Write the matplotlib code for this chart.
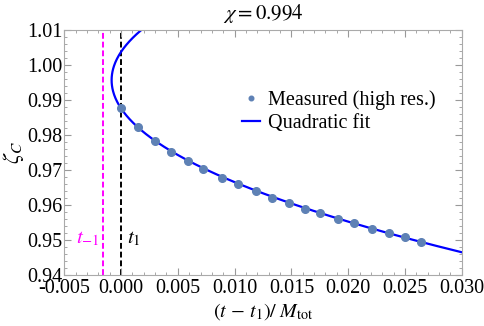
import numpy as np
import matplotlib.pyplot as plt
from matplotlib.ticker import MultipleLocator, FormatStrFormatter

# measured points (high res.)
t_meas = [0.0, 0.00149, 0.00296, 0.00442, 0.00589, 0.00724, 0.00892, 0.01032,
          0.01188, 0.01329, 0.01476, 0.01623, 0.01752, 0.01913, 0.02054,
          0.02207, 0.02357, 0.02501, 0.02639]
zeta_meas = [0.98763, 0.98229, 0.97837, 0.97523, 0.97266, 0.97049, 0.96791,
             0.96600, 0.96409, 0.96220, 0.96066, 0.95906, 0.95771, 0.95614,
             0.95486, 0.95334, 0.95209, 0.95086, 0.94963]
# quadratic fit  t = a (zeta - zeta0)^2 + t0, parameters
fit_a = 12.8
fit_zeta0 = 0.9957
fit_t0 = -0.00083
t_1 = 0.0
t_m1 = -0.00157
chi = 0.994

plt.rcParams['font.family'] = ['Liberation Serif', 'DejaVu Serif']
plt.rcParams['mathtext.fontset'] = 'stix'

fig, ax = plt.subplots(figsize=(4.85, 3.26), dpi=100)
fig.subplots_adjust(left=0.1325, right=0.952, top=0.908, bottom=0.155)

zz = np.linspace(0.935, 1.015, 400)
tt = np.polyval([fit_a, -2 * fit_a * fit_zeta0, fit_a * fit_zeta0 ** 2 + fit_t0], zz)
ax.plot(tt, zz, color='#0000ff', lw=1.6, label='Quadratic fit', zorder=2)
ax.plot(t_meas, zeta_meas, 'o', color='#5e81b5', ms=5.5, label='Measured (high res.)', zorder=3)

ax.axvline(t_m1, color='#ff00ff', ls=(0, (3, 1.5)), lw=1.4, zorder=1)
ax.axvline(t_1, color='black', ls=(0, (3, 1.5)), lw=1.4, zorder=1)
ax.text(t_m1 - 0.0003, 0.9505, r'$t_{-1}$', color='#ff00ff', fontsize=15, ha='right', va='center')
ax.text(t_1 + 0.0005, 0.9505, r'$t_1$', color='black', fontsize=15, ha='left', va='center')

ax.set_xlim(-0.005, 0.030)
ax.set_ylim(0.94, 1.01)
ax.xaxis.set_major_locator(MultipleLocator(0.005))
ax.xaxis.set_minor_locator(MultipleLocator(0.001))
ax.yaxis.set_major_locator(MultipleLocator(0.01))
ax.yaxis.set_minor_locator(MultipleLocator(0.002))
ax.xaxis.set_major_formatter(FormatStrFormatter('%.3f'))
ax.yaxis.set_major_formatter(FormatStrFormatter('%.2f'))
ax.tick_params(which='both', direction='in', top=True, right=True, color='#999999',
               labelsize=14.5, pad=1)
ax.tick_params(axis='x', which='major', pad=2.5)
ax.tick_params(which='major', length=5)
ax.tick_params(which='minor', length=2.5)
for s in ax.spines.values():
    s.set_color('#aaaaaa')

ax.set_title(r'$\chi = 0.994$', fontsize=15, pad=8)
ax.set_ylabel(r'$\zeta_C$', fontsize=16, labelpad=1)
ax.set_xlabel(r'$(t\,-\,t_1)/\;M_{\rm tot}$', fontsize=14.5, labelpad=2)

h, l = ax.get_legend_handles_labels()
ax.legend(h[::-1], l[::-1], loc='upper right', bbox_to_anchor=(0.97, 0.81), frameon=False,
          fontsize=14.5, handlelength=0.9, handletextpad=0.4, labelspacing=0.15,
          markerscale=0.6, borderpad=0.2)

fig.savefig('out.png', dpi=100)
